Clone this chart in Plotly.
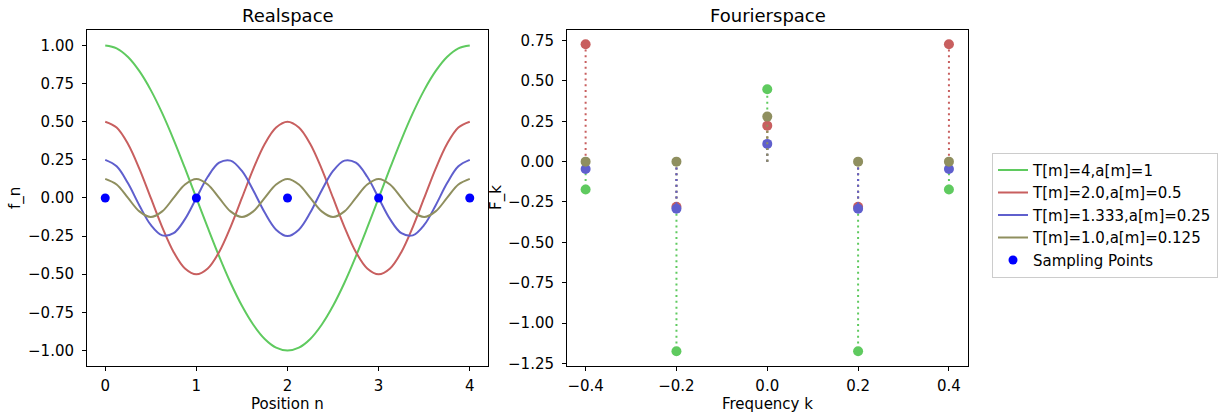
import plotly.graph_objects as go

# ---------------- data ----------------
n_pos = [0.0, 0.125, 0.25, 0.375, 0.5, 0.625, 0.75, 0.875, 1.0, 1.125, 1.25, 1.375, 1.5, 1.625, 1.75, 1.875,
         2.0, 2.125, 2.25, 2.375, 2.5, 2.625, 2.75, 2.875, 3.0, 3.125, 3.25, 3.375, 3.5, 3.625, 3.75, 3.875, 4.0]

f_T4 = [1.0, 0.981, 0.924, 0.831, 0.707, 0.556, 0.383, 0.195, 0.0, -0.195, -0.383, -0.556, -0.707, -0.831, -0.924,
        -0.981, -1.0, -0.981, -0.924, -0.831, -0.707, -0.556, -0.383, -0.195, 0.0, 0.195, 0.383, 0.556, 0.707,
        0.831, 0.924, 0.981, 1.0]
f_T2 = [0.5, 0.462, 0.354, 0.191, 0.0, -0.191, -0.354, -0.462, -0.5, -0.462, -0.354, -0.191, 0.0, 0.191, 0.354,
        0.462, 0.5, 0.462, 0.354, 0.191, 0.0, -0.191, -0.354, -0.462, -0.5, -0.462, -0.354, -0.191, 0.0, 0.191,
        0.354, 0.462, 0.5]
f_T1333 = [0.25, 0.208, 0.096, -0.049, -0.177, -0.245, -0.231, -0.139, 0.0, 0.139, 0.231, 0.245, 0.177, 0.049,
           -0.096, -0.208, -0.25, -0.208, -0.096, 0.049, 0.177, 0.245, 0.231, 0.139, 0.0, -0.139, -0.231, -0.245,
           -0.177, -0.049, 0.096, 0.208, 0.25]
f_T1 = [0.125, 0.088, 0.0, -0.088, -0.125, -0.088, 0.0, 0.088, 0.125, 0.088, 0.0, -0.088, -0.125, -0.088, 0.0,
        0.088, 0.125, 0.088, 0.0, -0.088, -0.125, -0.088, 0.0, 0.088, 0.125, 0.088, 0.0, -0.088, -0.125, -0.088,
        0.0, 0.088, 0.125]

sample_n = [0, 1, 2, 3, 4]
sample_f = [0, 0, 0, 0, 0]

freq_k = [-0.4, -0.2, 0.0, 0.2, 0.4]
F_T4 = [-0.173, -1.175, 0.448, -1.175, -0.173]
F_T2 = [0.727, -0.279, 0.223, -0.279, 0.727]
F_T1333 = [-0.046, -0.292, 0.110, -0.292, -0.046]
F_T1 = [0.0, 0.0, 0.279, 0.0, 0.0]

labels = ["T[m]=4,a[m]=1", "T[m]=2.0,a[m]=0.5", "T[m]=1.333,a[m]=0.25", "T[m]=1.0,a[m]=0.125"]
colors = ["#5fca5f", "#c85f5f", "#5f5fcd", "#8f8f5f"]

real_series = [f_T4, f_T2, f_T1333, f_T1]
fourier_series = [F_T4, F_T2, F_T1333, F_T1]

FONT = "DejaVu Sans"
W, H = 1224, 417
HE = 408  # effective rendered height of the paper in the viewer

fig = go.Figure()

# left: realspace curves
for lab, col, ys in zip(labels, colors, real_series):
    fig.add_trace(go.Scatter(x=n_pos, y=ys, mode="lines", name=lab,
                             line=dict(color=col, width=2, shape="spline", smoothing=1.0),
                             xaxis="x", yaxis="y"))
fig.add_trace(go.Scatter(x=sample_n, y=sample_f, mode="markers", name="Sampling Points",
                         marker=dict(color="#0000ff", size=9), xaxis="x", yaxis="y"))

# right: stems
for lab, col, ys in zip(labels, colors, fourier_series):
    sx, sy = [], []
    for k, v in zip(freq_k, ys):
        sx += [k, k, None]
        sy += [0, v, None]
    fig.add_trace(go.Scatter(x=sx, y=sy, mode="lines", showlegend=False,
                             line=dict(color=col, width=2, dash="2px,3.8px"),
                             xaxis="x2", yaxis="y2", hoverinfo="skip"))
    fig.add_trace(go.Scatter(x=freq_k, y=ys, mode="markers", showlegend=False,
                             marker=dict(color=col, size=10, line=dict(width=0)),
                             xaxis="x2", yaxis="y2"))

ytop = 1 - 30 / HE
ybot = 1 - 364 / HE
dom1 = [87 / W, 488 / W]
dom2 = [567 / W, 968 / W]

axis_common = dict(showgrid=False, zeroline=False, showline=True, linecolor="black", linewidth=1,
                   mirror=True, ticks="outside", ticklen=4, tickwidth=1, tickcolor="black",
                   tickfont=dict(family=FONT, size=15, color="black"))

fig.update_layout(
    width=W, height=H,
    margin=dict(l=0, r=0, t=0, b=0),
    paper_bgcolor="white", plot_bgcolor="white",
    font=dict(family=FONT, size=15, color="black"),
    xaxis=dict(domain=dom1, range=[-0.2, 4.2], tickvals=[0, 1, 2, 3, 4], anchor="y",
               ticklabelstandoff=2, **axis_common),
    yaxis=dict(domain=[ybot, ytop], range=[-1.1, 1.1], tickvals=[-1, -0.75, -0.5, -0.25, 0, 0.25, 0.5, 0.75, 1],
               tickformat=".2f", anchor="x", ticklabelstandoff=5, **axis_common),
    xaxis2=dict(domain=dom2, range=[-0.441, 0.442], tickvals=freq_k, tickformat=".1f", anchor="y2",
                ticklabelstandoff=2, **axis_common),
    yaxis2=dict(domain=[ybot, ytop], range=[-1.2645, 0.8145],
                tickvals=[-1.25, -1.0, -0.75, -0.5, -0.25, 0, 0.25, 0.5, 0.75],
                tickformat=".2f", anchor="x2", ticklabelstandoff=5, **axis_common),
    legend=dict(x=992 / W, y=1 - 152 / HE, xanchor="left", yanchor="top",
                bordercolor="#cccccc", borderwidth=1, bgcolor="white",
                font=dict(family=FONT, size=15, color="black"), tracegroupgap=0),
    showlegend=True,
)

ann = [
    dict(text="Realspace", x=(dom1[0] + dom1[1]) / 2, y=1 - 15 / HE, font=dict(size=18)),
    dict(text="Fourierspace", x=(dom2[0] + dom2[1]) / 2, y=1 - 15 / HE, font=dict(size=18)),
    dict(text="Position n", x=(dom1[0] + dom1[1]) / 2, y=1 - 402 / HE, font=dict(size=15)),
    dict(text="Frequency k", x=(dom2[0] + dom2[1]) / 2, y=1 - 402 / HE, font=dict(size=15)),
    dict(text="f_n", x=16 / W, y=(ybot + ytop) / 2, textangle=-90, font=dict(size=15)),
    dict(text="F_k", x=497 / W, y=(ybot + ytop) / 2, textangle=-90, font=dict(size=15)),
]
for a in ann:
    fig.add_annotation(xref="paper", yref="paper", showarrow=False, xanchor="center", yanchor="middle",
                       borderpad=0, font_family=FONT, font_color="black", **a)

fig.write_html("out.html")
